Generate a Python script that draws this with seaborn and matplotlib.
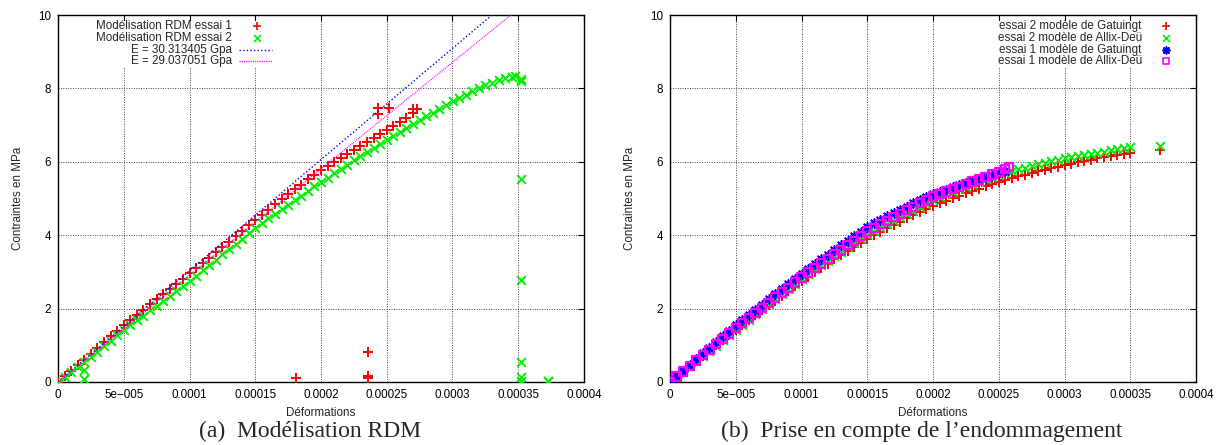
import matplotlib
matplotlib.use("Agg")
import numpy as np
import matplotlib.pyplot as plt
import seaborn as sns
from matplotlib.patches import Rectangle

# ---------------- data (strain given in units of 1e-5, stress in MPa) ----------------
# (a) Modélisation RDM
rdm1_eps = [0, 0.5, 1, 1.5, 2, 2.5, 3, 3.5, 4, 4.5, 5, 5.5, 6, 6.5, 7, 7.5, 8, 8.5, 9, 9.5,
            10, 10.5, 11, 11.5, 12, 12.5, 13, 13.5, 14, 14.5, 15, 15.5, 16, 16.5, 17, 17.5,
            18, 18.5, 19, 19.5, 20, 20.5, 21, 21.5, 22, 22.5, 23, 23.5, 24, 24.5, 25, 25.5,
            26, 26.5, 27, 27.3,
            24.3, 24.3, 25.2, 27.0, 18.1, 23.6, 23.6, 23.6]
rdm1_sig = [0.00, 0.15, 0.30, 0.46, 0.61, 0.77, 0.93, 1.08, 1.24, 1.40, 1.55, 1.69, 1.83, 1.97,
            2.12, 2.26, 2.40, 2.54, 2.68, 2.82, 2.96, 3.10, 3.24, 3.38, 3.53, 3.67, 3.82, 3.97,
            4.12, 4.27, 4.42, 4.56, 4.70, 4.84, 4.98, 5.11, 5.25, 5.38, 5.52, 5.65, 5.78, 5.89,
            6.00, 6.11, 6.22, 6.33, 6.44, 6.55, 6.66, 6.77, 6.88, 6.98, 7.08, 7.19, 7.32, 7.45,
            7.46, 7.29, 7.46, 7.45, 0.11, 0.81, 0.15, 0.10]

rdm2_eps = [0, 0.5, 1, 1.5, 2, 2.5, 3, 3.5, 4, 4.5, 5, 5.5, 6, 6.5, 7, 7.5, 8, 8.5, 9, 9.5,
            10, 10.5, 11, 11.5, 12, 12.5, 13, 13.5, 14, 14.5, 15, 15.5, 16, 16.5, 17, 17.5,
            18, 18.5, 19, 19.5, 20, 20.5, 21, 21.5, 22, 22.5, 23, 23.5, 24, 24.5, 25, 25.5,
            26, 26.5, 27, 27.5, 28, 28.5, 29, 29.5, 30, 30.5, 31, 31.5, 32, 32.5, 33, 33.5,
            34, 34.5,
            34.75, 35.2, 35.2, 35.2, 35.2, 35.2, 35.2, 35.2, 37.3, 37.3, 2.0, 2.0]
rdm2_sig = [0.00, 0.13, 0.27, 0.41, 0.55, 0.69, 0.83, 0.97, 1.12, 1.27, 1.42, 1.55, 1.68, 1.81,
            1.95, 2.08, 2.22, 2.35, 2.48, 2.62, 2.75, 2.90, 3.04, 3.19, 3.33, 3.48, 3.62, 3.77,
            3.91, 4.06, 4.20, 4.33, 4.46, 4.58, 4.71, 4.83, 4.96, 5.08, 5.21, 5.33, 5.45, 5.57,
            5.69, 5.81, 5.92, 6.04, 6.15, 6.27, 6.38, 6.49, 6.60, 6.71, 6.82, 6.92, 7.03, 7.14,
            7.24, 7.34, 7.45, 7.55, 7.65, 7.74, 7.83, 7.92, 8.01, 8.08, 8.15, 8.22, 8.28, 8.32,
            8.34, 8.25, 8.20, 5.52, 2.78, 0.54, 0.13, 0.03, 0.02, 0.04, 0.32, 0.09]

# Moduli lines (end points)
e1_eps = [0.0, 33.0]
e1_sig = [0.0, 10.0]
e2_eps = [0.0, 34.44]
e2_sig = [0.0, 10.0]

# (b) Prise en compte de l'endommagement
g2_eps = [0, 0.5, 1, 1.5, 2, 2.5, 3, 3.5, 4, 4.5, 5, 5.5, 6, 6.5, 7, 7.5, 8, 8.5, 9, 9.5,
          10, 10.5, 11, 11.5, 12, 12.5, 13, 13.5, 14, 14.5, 15, 15.5, 16, 16.5, 17, 17.5,
          18, 18.5, 19, 19.5, 20, 20.5, 21, 21.5, 22, 22.5, 23, 23.5, 24, 24.5, 25, 25.5,
          26, 26.5, 27, 27.5, 28, 28.5, 29, 29.5, 30, 30.5, 31, 31.5, 32, 32.5, 33, 33.5,
          34, 34.5, 35, 37.3]
g2_sig = [0.00, 0.15, 0.29, 0.43, 0.57, 0.72, 0.86, 1.00, 1.14, 1.28, 1.42, 1.55, 1.69, 1.82,
          1.95, 2.09, 2.22, 2.35, 2.49, 2.62, 2.75, 2.87, 2.99, 3.11, 3.22, 3.34, 3.45, 3.57,
          3.68, 3.79, 3.90, 4.00, 4.10, 4.19, 4.28, 4.37, 4.46, 4.55, 4.63, 4.72, 4.80, 4.87,
          4.94, 5.01, 5.08, 5.14, 5.20, 5.27, 5.33, 5.39, 5.45, 5.50, 5.55, 5.60, 5.65, 5.69,
          5.74, 5.78, 5.83, 5.87, 5.92, 5.95, 5.99, 6.02, 6.06, 6.09, 6.13, 6.16, 6.19, 6.22,
          6.25, 6.32]

a2_eps = [0, 0.5, 1, 1.5, 2, 2.5, 3, 3.5, 4, 4.5, 5, 5.5, 6, 6.5, 7, 7.5, 8, 8.5, 9, 9.5,
          10, 10.5, 11, 11.5, 12, 12.5, 13, 13.5, 14, 14.5, 15, 15.5, 16, 16.5, 17, 17.5,
          18, 18.5, 19, 19.5, 20, 20.5, 21, 21.5, 22, 22.5, 23, 23.5, 24, 24.5, 25, 25.5,
          26, 26.5, 27, 27.5, 28, 28.5, 29, 29.5, 30, 30.5, 31, 31.5, 32, 32.5, 33, 33.5,
          34, 34.5, 35, 37.3]
a2_sig = [0.00, 0.14, 0.28, 0.43, 0.57, 0.71, 0.85, 0.99, 1.14, 1.28, 1.42, 1.56, 1.70, 1.84,
          1.98, 2.12, 2.26, 2.40, 2.54, 2.68, 2.82, 2.95, 3.07, 3.19, 3.31, 3.43, 3.55, 3.67,
          3.79, 3.91, 4.02, 4.12, 4.22, 4.31, 4.40, 4.49, 4.58, 4.67, 4.77, 4.86, 4.95, 5.03,
          5.11, 5.18, 5.25, 5.32, 5.39, 5.46, 5.52, 5.59, 5.65, 5.70, 5.75, 5.80, 5.84, 5.89,
          5.93, 5.97, 6.02, 6.06, 6.10, 6.13, 6.16, 6.19, 6.22, 6.25, 6.28, 6.31, 6.34, 6.37,
          6.40, 6.42]

g1_eps = [0, 0.5, 1, 1.5, 2, 2.5, 3, 3.5, 4, 4.5, 5, 5.5, 6, 6.5, 7, 7.5, 8, 8.5, 9, 9.5,
          10, 10.5, 11, 11.5, 12, 12.5, 13, 13.5, 14, 14.5, 15, 15.5, 16, 16.5, 17, 17.5,
          18, 18.5, 19, 19.5, 20, 20.5, 21, 21.5, 22, 22.5, 23, 23.5, 24, 24.5, 25, 25.5]
g1_sig = [0.00, 0.16, 0.31, 0.47, 0.62, 0.78, 0.93, 1.09, 1.24, 1.40, 1.55, 1.69, 1.83, 1.97,
          2.11, 2.25, 2.39, 2.53, 2.67, 2.81, 2.95, 3.08, 3.21, 3.34, 3.47, 3.59, 3.72, 3.84,
          3.97, 4.09, 4.22, 4.32, 4.42, 4.51, 4.60, 4.69, 4.78, 4.87, 4.95, 5.04, 5.12, 5.18,
          5.24, 5.30, 5.36, 5.42, 5.47, 5.53, 5.59, 5.64, 5.70, 5.75]

a1_eps = [0, 0.5, 1, 1.5, 2, 2.5, 3, 3.5, 4, 4.5, 5, 5.5, 6, 6.5, 7, 7.5, 8, 8.5, 9, 9.5,
          10, 10.5, 11, 11.5, 12, 12.5, 13, 13.5, 14, 14.5, 15, 15.5, 16, 16.5, 17, 17.5,
          18, 18.5, 19, 19.5, 20, 20.5, 21, 21.5, 22, 22.5, 23, 23.5, 24, 24.5, 25, 25.5, 25.8]
a1_sig = [0.00, 0.15, 0.29, 0.44, 0.59, 0.74, 0.88, 1.03, 1.18, 1.32, 1.47, 1.61, 1.75, 1.88,
          2.02, 2.16, 2.30, 2.44, 2.57, 2.71, 2.85, 2.98, 3.10, 3.23, 3.35, 3.48, 3.60, 3.73,
          3.85, 3.98, 4.10, 4.20, 4.30, 4.39, 4.49, 4.58, 4.68, 4.77, 4.87, 4.96, 5.05, 5.12,
          5.19, 5.25, 5.32, 5.39, 5.46, 5.52, 5.59, 5.65, 5.72, 5.80, 5.86]

# ticks / labels
x_ticks = [0, 5e-5, 1e-4, 1.5e-4, 2e-4, 2.5e-4, 3e-4, 3.5e-4, 4e-4]
x_tick_labels = ["0", "5e\u2212005", "0.0001", "0.00015", "0.0002", "0.00025", "0.0003",
                 "0.00035", "0.0004"]
y_ticks = [0, 2, 4, 6, 8, 10]
y_tick_labels = ["0", "2", "4", "6", "8", "10"]
x_label = "Déformations"
y_label = "Contraintes en MPa"
legend_a = ["Modélisation RDM essai 1", "Modélisation RDM essai 2",
            "E = 30.313405 Gpa", "E = 29.037051 Gpa"]
legend_b = ["essai 2 modèle de Gatuingt", "essai 2 modèle de Allix-Deü",
            "essai 1 modèle de Gatuingt", "essai 1 modèle de Allix-Deü"]
caption_a = "(a)  Modélisation RDM"
caption_b = "(b)  Prise en compte de l\u2019endommagement"

SCALE = 1e-5

# ---------------- style ----------------
sns.set_style("white")
plt.rcParams["font.family"] = ["Liberation Sans", "DejaVu Sans"]
FS = 8.4

fig = plt.figure(figsize=(12.24, 4.45), dpi=100)
ax_a = fig.add_axes([58 / 1224, 63 / 445, 526 / 1224, 367 / 445])
ax_b = fig.add_axes([670 / 1224, 63 / 445, 526 / 1224, 367 / 445])

RED, GREEN, BLUE, MAG = "#ff0000", "#00ee00", "#0000ff", "#ff00ff"
ASTER = (8, 2, 0)
DOT_BLUE = (0, (1.0, 1.6))
DOT_MAG = (0, (0.8, 0.8))


def scat(ax, xs, ys, color, marker, s=50, lw=1.4, **kw):
    sns.scatterplot(x=np.asarray(xs) * SCALE, y=ys, color=color, marker=marker, s=s,
                    linewidth=lw, ax=ax, zorder=3, **kw)


# (a)
scat(ax_a, rdm1_eps, rdm1_sig, RED, "+")
scat(ax_a, rdm2_eps, rdm2_sig, GREEN, "x", s=40)
sns.lineplot(x=np.asarray(e1_eps) * SCALE, y=e1_sig, color=BLUE, linestyle=DOT_BLUE,
             linewidth=1.0, ax=ax_a, zorder=4)
sns.lineplot(x=np.asarray(e2_eps) * SCALE, y=e2_sig, color=MAG, linestyle=DOT_MAG,
             linewidth=0.9, ax=ax_a, zorder=4)

# (b)
scat(ax_b, g2_eps, g2_sig, RED, "+")
scat(ax_b, a2_eps, a2_sig, GREEN, "x", s=40)
scat(ax_b, g1_eps, g1_sig, BLUE, ASTER, s=42, lw=1.2)
scat(ax_b, a1_eps, a1_sig, MAG, "s", s=36, lw=1.6, facecolor="none", edgecolor=MAG)

for ax in (ax_a, ax_b):
    ax.set_xlim(0, 0.0004)
    ax.set_ylim(0, 10)
    ax.set_xticks(x_ticks)
    ax.set_xticklabels(x_tick_labels)
    ax.set_yticks(y_ticks)
    ax.set_yticklabels(y_tick_labels)
    ax.tick_params(direction="in", length=4, width=0.8, colors="black", labelsize=FS,
                   top=True, right=True, pad=5)
    ax.grid(True, color="#444444", linestyle=(0, (1, 1.5)), linewidth=0.7)
    ax.set_axisbelow(True)
    for sp in ax.spines.values():
        sp.set_color("black")
        sp.set_linewidth(1.0)
    ax.set_xlabel(x_label, fontsize=FS, labelpad=4)
    ax.set_ylabel(y_label, fontsize=FS, labelpad=10)

# keys (gnuplot style: right-aligned text, sample on the right, white box)
rows_y = [0.970, 0.937, 0.905, 0.875]


def key(ax, box, x_text, x_mark, labels, samples):
    ax.add_patch(Rectangle((box[0], box[1]), box[2], box[3], transform=ax.transAxes,
                           facecolor="white", edgecolor="none", zorder=2))
    for lab, smp, yy in zip(labels, samples, rows_y):
        ax.text(x_text, yy, lab, transform=ax.transAxes, ha="right", va="center",
                fontsize=FS, zorder=6)
        if smp[0] == "line":
            ax.plot([x_mark - 0.033, x_mark + 0.028], [yy, yy], transform=ax.transAxes,
                    color=smp[1], linestyle=smp[2], linewidth=smp[3], zorder=6, clip_on=False)
        else:
            extra = {"facecolor": "none", "edgecolor": smp[1]} if smp[2] == "s" else {"color": smp[1]}
            ax.scatter([x_mark], [yy], transform=ax.transAxes, marker=smp[2],
                       s=smp[3], linewidths=1.2, zorder=6, clip_on=False, **extra)


key(ax_a, (0.06, 0.857, 0.37, 0.128), 0.331, 0.378, legend_a,
    [("marker", RED, "+", 30), ("marker", GREEN, "x", 24),
     ("line", BLUE, DOT_BLUE, 1.0), ("line", MAG, DOT_MAG, 1.0)])
key(ax_b, (0.55, 0.857, 0.44, 0.128), 0.897, 0.943, legend_b,
    [("marker", RED, "+", 30), ("marker", GREEN, "x", 24),
     ("marker", BLUE, ASTER, 24), ("marker", MAG, "s", 20)])

# sub-captions (centred on each sub-figure, slightly left of the axes centre)
for ax, cap in ((ax_a, caption_a), (ax_b, caption_b)):
    pos = ax.get_position()
    fig.text(pos.x0 + pos.width / 2 - 11 / 1224, 14 / 445, cap, ha="center", va="center",
             fontsize=17, family=["Liberation Serif", "DejaVu Serif"])

fig.savefig("out.png", dpi=100)
